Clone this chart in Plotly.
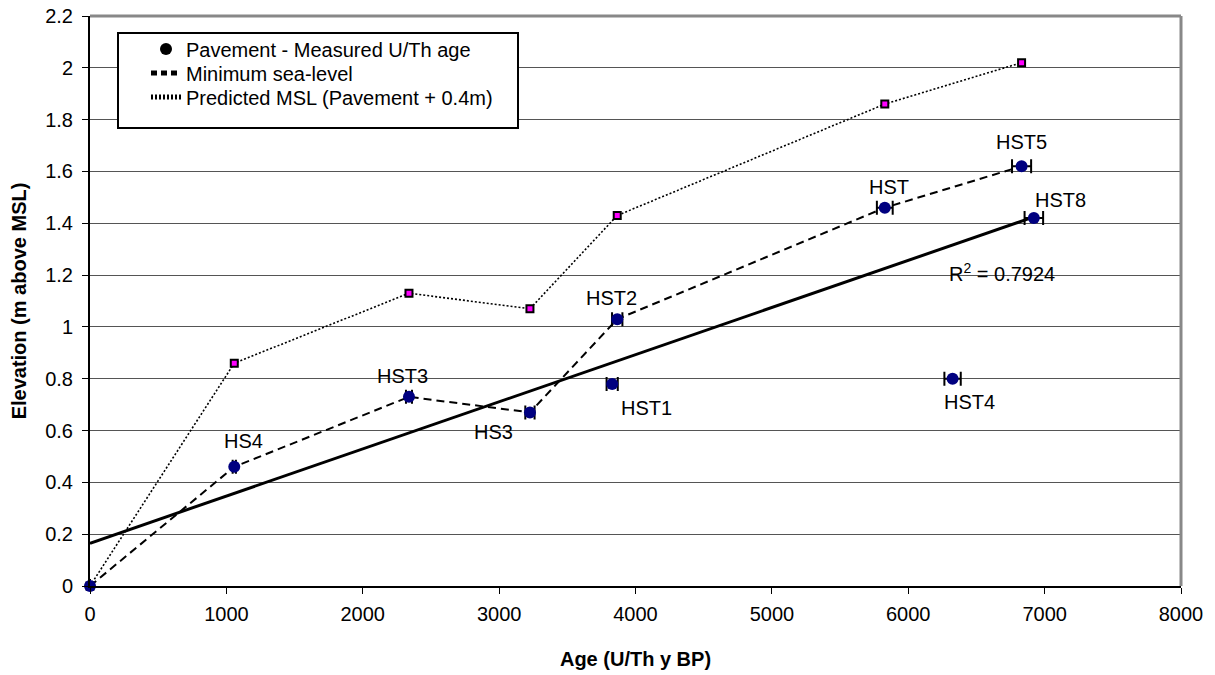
import numpy as np
import plotly.graph_objects as go

# ---- data ----
sample_names = ["", "HS4", "HST3", "HS3", "HST1", "HST2", "HST", "HST5", "HST4", "HST8"]
pavement_age = [0, 1058, 2339, 3226, 3829, 3866, 5828, 6831, 6325, 6921]
pavement_elev = [0, 0.46, 0.73, 0.67, 0.78, 1.03, 1.46, 1.62, 0.80, 1.42]
age_error = [0, 12, 22, 34, 41, 38, 58, 70, 60, 68]

minsl_age = [0, 1058, 2339, 3226, 3866, 5828, 6831]
minsl_elev = [0, 0.46, 0.73, 0.67, 1.03, 1.46, 1.62]

pred_age = [0, 1058, 2339, 3226, 3866, 5828, 6831]
pred_elev = [0, 0.86, 1.13, 1.07, 1.43, 1.86, 2.02]

legend_names = ["Pavement - Measured U/Th age", "Minimum sea-level",
                "Predicted MSL (Pavement + 0.4m)"]

r2_text = "R<sup>2</sup> = 0.7924"
r2_pos = (6684, 1.21)

# label offsets (pixels) - styling
label_shift = {
    "HS4": (9, 26), "HST3": (-6, 21), "HS3": (-36, -20), "HST1": (34, -24),
    "HST2": (-6, 21), "HST": (4, 21), "HST5": (0, 24), "HST8": (27, 18),
    "HST4": (17, -23),
}

FONT = "Arial, Liberation Sans, sans-serif"
DASH = "8px,5px"
DOT = "2px,2px"

# linear regression
slope, intercept = np.polyfit(pavement_age, pavement_elev, 1)
reg_x = [0, max(pavement_age)]
reg_y = [intercept + slope * v for v in reg_x]

fig = go.Figure()

fig.add_trace(go.Scatter(x=reg_x, y=reg_y, mode="lines",
                         line=dict(color="black", width=3), showlegend=False,
                         hoverinfo="skip"))
fig.add_trace(go.Scatter(x=pred_age, y=pred_elev, mode="lines",
                         line=dict(color="black", width=1.6, dash=DOT),
                         showlegend=False))
fig.add_trace(go.Scatter(x=pred_age, y=pred_elev, mode="markers",
                         marker=dict(symbol="square", size=7, color="magenta",
                                     line=dict(color="black", width=2)),
                         showlegend=False, cliponaxis=False))
fig.add_trace(go.Scatter(x=minsl_age, y=minsl_elev, mode="lines",
                         line=dict(color="black", width=2, dash=DASH),
                         showlegend=False))
fig.add_trace(go.Scatter(x=pavement_age, y=pavement_elev, mode="markers",
                         marker=dict(symbol="circle", size=12, color="#000080"),
                         error_x=dict(type="data", array=age_error, visible=True,
                                      color="black", thickness=2, width=7),
                         showlegend=False, cliponaxis=False))

# legend entries (one legend per row for exact spacing)
fig.add_trace(go.Scatter(x=[None], y=[None], mode="markers", legend="legend",
                         name=legend_names[0],
                         marker=dict(symbol="circle", size=12, color="black")))
fig.add_trace(go.Scatter(x=[None], y=[None], mode="lines", legend="legend2",
                         name=legend_names[1],
                         line=dict(color="black", width=2, dash="6px,4px")))
fig.add_trace(go.Scatter(x=[None], y=[None], mode="lines", legend="legend3",
                         name=legend_names[2],
                         line=dict(color="black", width=1.6, dash=DOT)))

annotations = []
for name, ax, ay in zip(sample_names, pavement_age, pavement_elev):
    if not name:
        continue
    dx, dy = label_shift[name]
    annotations.append(dict(x=ax, y=ay, xref="x", yref="y", text=name,
                            showarrow=False, xshift=dx, yshift=dy,
                            font=dict(family=FONT, size=20, color="black")))
annotations.append(dict(x=r2_pos[0], y=r2_pos[1], xref="x", yref="y", text=r2_text,
                        showarrow=False, font=dict(family=FONT, size=20, color="black")))

# page body has an 8px margin; figure is sized/offset so the plot area sits at
# x 90..1181, y 16..586 in the 1215x675 window
OFF = 8
W, H = 1215 - OFF, 675 - OFF
ml, mr, mt, mb = 90 - OFF, 34, 16 - OFF, 89
pw, ph = W - ml - mr, H - mt - mb


def px2paper_x(p):
    return (p - OFF - ml) / pw


def px2paper_y(p):
    return (H - mb - (p - OFF)) / ph


shapes = [
    dict(type="line", xref="paper", yref="paper", x0=0, x1=1, y0=1, y1=1,
         line=dict(color="#888888", width=3)),
    dict(type="line", xref="paper", yref="paper", x0=1, x1=1, y0=0, y1=1,
         line=dict(color="#888888", width=3)),
    dict(type="rect", xref="paper", yref="paper",
         x0=px2paper_x(118), x1=px2paper_x(518), y0=px2paper_y(128), y1=px2paper_y(33),
         line=dict(color="black", width=2), fillcolor="white", layer="above"),
]


def leg(ypx):
    return dict(x=px2paper_x(146), y=px2paper_y(ypx), xanchor="left", yanchor="middle",
                bgcolor="rgba(0,0,0,0)", borderwidth=0,
                font=dict(family=FONT, size=20, color="black"),
                itemsizing="constant")


fig.update_layout(
    width=W, height=H,
    margin=dict(l=ml, r=mr, t=mt, b=mb, autoexpand=False),
    paper_bgcolor="white", plot_bgcolor="white",
    font=dict(family=FONT, size=20, color="black"),
    showlegend=True,
    legend=leg(49), legend2=leg(73), legend3=leg(97),
    annotations=annotations,
    shapes=shapes,
    xaxis=dict(range=[0, 8000], dtick=1000, showgrid=False, zeroline=False,
               automargin=False, ticklabeloverflow="allow",
               showline=True, linecolor="black", linewidth=2,
               ticks="outside", ticklen=6, tickcolor="black", tickwidth=1,
               ticklabelstandoff=3,
               title=dict(text="<b>Age (U/Th y BP)</b>", standoff=28,
                          font=dict(family=FONT, size=20))),
    yaxis=dict(range=[0, 2.2], dtick=0.2, showgrid=True, gridcolor="#555555",
               gridwidth=1, zeroline=False, automargin=False,
               ticklabeloverflow="allow",
               showline=True, linecolor="black", linewidth=2,
               ticks="outside", ticklen=6, tickcolor="black", tickwidth=1,
               ticklabelstandoff=5,
               tickformat="~g",
               title=dict(text="<b>Elevation (m above MSL)</b>", standoff=13,
                          font=dict(family=FONT, size=20))),
)

fig.write_html("out.html")
